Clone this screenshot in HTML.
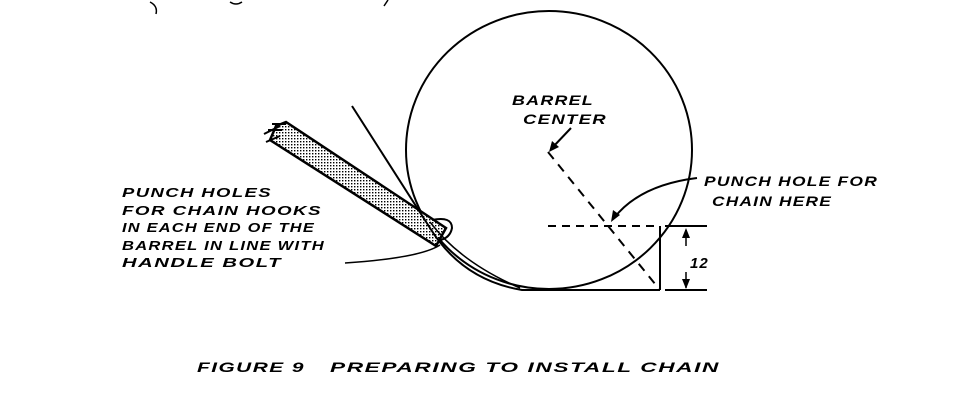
<!DOCTYPE html>
<html><head><style>
body{margin:0;background:#fff;}
svg text{font-family:"Liberation Sans",sans-serif;font-style:italic;font-weight:bold;fill:#000;letter-spacing:1px;}
</style></head><body>
<svg width="965" height="402" viewBox="0 0 965 402" xmlns="http://www.w3.org/2000/svg">
<defs>
<pattern id="dots" width="3" height="3" patternUnits="userSpaceOnUse"><rect width="3" height="3" fill="#fff"/><rect width="1.4" height="1.4" fill="#000"/></pattern>
</defs>
<path d="M150 2 Q158 6 156 14" fill="none" stroke="#000" stroke-width="1.5"/>
<path d="M230 2 Q236 6 242 2" fill="none" stroke="#000" stroke-width="1.5"/>
<path d="M388 0 L384 6" fill="none" stroke="#000" stroke-width="1.5"/>
<ellipse cx="549" cy="150" rx="143" ry="139" fill="none" stroke="#000" stroke-width="2"/>
<polygon points="276,126 286,122 446,228 436,246 270,140" fill="url(#dots)" stroke="#000" stroke-width="2.5"/>
<path d="M264 134 L280 126 M266 142 L280 136 M272 124 L286 124 M268 130 L282 130" stroke="#000" stroke-width="2"/>
<path d="M352 106 L430 228 Q462 280 522 290 L660 290" fill="none" stroke="#000" stroke-width="2"/>
<path d="M430 222 Q460 262 520 288" fill="none" stroke="#000" stroke-width="1.5"/>
<path d="M432 220 Q452 216 452 228 Q450 238 440 240" fill="none" stroke="#000" stroke-width="2"/>
<path d="M345 263 Q420 258 440 245" fill="none" stroke="#000" stroke-width="1.5"/>
<line x1="660" y1="226" x2="660" y2="290" stroke="#000" stroke-width="2"/>
<line x1="548" y1="226" x2="660" y2="226" stroke="#000" stroke-width="2" stroke-dasharray="8,6"/>
<line x1="548" y1="152" x2="660" y2="290" stroke="#000" stroke-width="2" stroke-dasharray="9,7"/>
<line x1="665" y1="226" x2="707" y2="226" stroke="#000" stroke-width="2"/>
<line x1="665" y1="290" x2="707" y2="290" stroke="#000" stroke-width="2"/>
<line x1="686" y1="230" x2="686" y2="246" stroke="#000" stroke-width="1.5"/>
<polygon points="686,228 682,238 690,238"/>
<line x1="686" y1="272" x2="686" y2="288" stroke="#000" stroke-width="1.5"/>
<polygon points="686,289 682,279 690,279"/>
<text x="690" y="268" font-size="15">12</text>
<path d="M571 128 L552 148" stroke="#000" stroke-width="2"/>
<polygon points="549,152 552,141 559,147"/>
<path d="M697 178 Q640 185 614 218" fill="none" stroke="#000" stroke-width="2"/>
<polygon points="611,222 613,210 620,215"/>
<g font-size="14">
<text x="512" y="105" textLength="82" lengthAdjust="spacingAndGlyphs">BARREL</text>
<text x="523" y="124" textLength="84" lengthAdjust="spacingAndGlyphs">CENTER</text>
<text x="704" y="186" textLength="174" lengthAdjust="spacingAndGlyphs">PUNCH HOLE FOR</text>
<text x="712" y="206" textLength="120" lengthAdjust="spacingAndGlyphs">CHAIN HERE</text>
</g>
<g font-size="13">
<text x="122" y="197" textLength="150" lengthAdjust="spacingAndGlyphs">PUNCH HOLES</text>
<text x="122" y="215" textLength="200" lengthAdjust="spacingAndGlyphs">FOR CHAIN HOOKS</text>
<text x="122" y="232" textLength="193" lengthAdjust="spacingAndGlyphs">IN EACH END OF THE</text>
<text x="122" y="250" textLength="203" lengthAdjust="spacingAndGlyphs">BARREL IN LINE WITH</text>
<text x="122" y="267" textLength="160" lengthAdjust="spacingAndGlyphs">HANDLE BOLT</text>
</g>
<g font-size="14">
<text x="197" y="372" textLength="108" lengthAdjust="spacingAndGlyphs">FIGURE 9</text>
<text x="330" y="372" textLength="390" lengthAdjust="spacingAndGlyphs">PREPARING TO INSTALL CHAIN</text>
</g>
</svg>
</body></html>
